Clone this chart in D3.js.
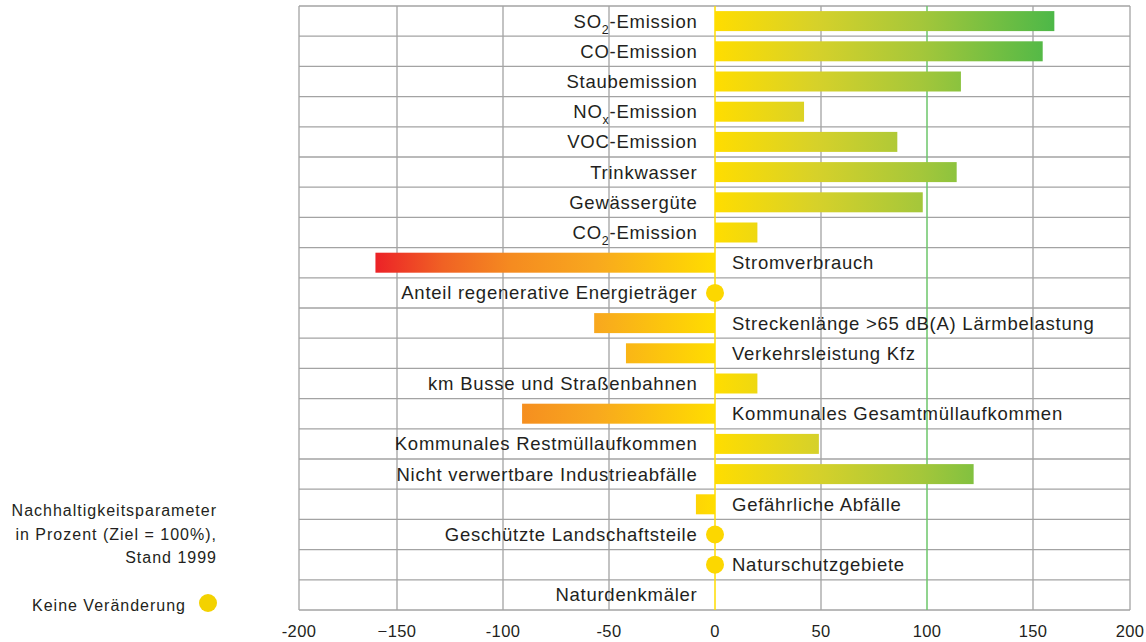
<!DOCTYPE html>
<html>
<head>
<meta charset="utf-8">
<script src="https://cdn.jsdelivr.net/npm/d3@7"></script>
<style>
  body { margin: 0; background: #fff; }
  svg { font-family: "Liberation Sans", Arial, sans-serif; }
</style>
</head>
<body>
<div id="chart"></div>
<script>
// parameter names (sub = subscript part)
var names = [
	["SO", "2", "-Emission"],
	["CO-Emission"],
	["Staubemission"],
	["NO", "x", "-Emission"],
	["VOC-Emission"],
	["Trinkwasser"],
	["Gewässergüte"],
	["CO", "2", "-Emission"],
	["Stromverbrauch"],
	["Anteil regenerative Energieträger"],
	["Streckenlänge >65 dB(A) Lärmbelastung"],
	["Verkehrsleistung Kfz"],
	["km Busse und Straßenbahnen"],
	["Kommunales Gesamtmüllaufkommen"],
	["Kommunales Restmüllaufkommen"],
	["Nicht verwertbare Industrieabfälle"],
	["Gefährliche Abfälle"],
	["Geschützte Landschaftsteile"],
	["Naturschutzgebiete"],
	["Naturdenkmäler"]
];
// percentage values, 0 = keine Veränderung (dot), null = no mark
var values = [161, 155, 116, 42, 86, 114, 98, 20, -161, 0, -57, -42, 20, -91, 49, 122, -9, 0, 0, null];
// which side of the zero line the label sits
var sides = ["l","l","l","l","l","l","l","l","r","l","r","r","l","r","l","l","r","l","r","l"];
var tickValues = [-200, -150, -100, -50, 0, 50, 100, 150, 200];
var tickLabels = ["-200", "\u2212150", "-100", "-50", "0", "50", "100", "150", "200"];
var noteLines = ["Nachhaltigkeitsparameter", "in Prozent (Ziel = 100%),", "Stand 1999"];
var legendLabel = "Keine Veränderung";

var width = 1146, height = 642;
var plotTop = 6, plotBottom = 610;

var svg = d3.select("#chart")
  .append("svg")
    .attr("width", width)
    .attr("height", height);

// outer columns are a bit narrower in the original
var x = d3.scaleLinear()
    .domain([-200, -150, 150, 200])
    .range([299, 397, 1033, 1130]);

var y = d3.scaleBand()
    .domain(d3.range(names.length))
    .range([plotTop, plotBottom]);

var defs = svg.append("defs");
var gradPos = defs.append("linearGradient")
    .attr("id", "gradPos")
    .attr("gradientUnits", "userSpaceOnUse")
    .attr("x1", x(0)).attr("x2", x(161))
    .attr("y1", 0).attr("y2", 0);
[[0, "#ffdd00"], [0.3, "#d6d12a"], [0.6, "#a6c73a"], [1, "#4db848"]].forEach(function(s) {
	gradPos.append("stop").attr("offset", s[0]).attr("stop-color", s[1]);
});
var gradNeg = defs.append("linearGradient")
    .attr("id", "gradNeg")
    .attr("gradientUnits", "userSpaceOnUse")
    .attr("x1", x(0)).attr("x2", x(-161))
    .attr("y1", 0).attr("y2", 0);
[[0, "#ffdd00"], [0.35, "#f8a81e"], [0.6, "#f58b20"], [0.8, "#f06224"], [1, "#ec2227"]].forEach(function(s) {
	gradNeg.append("stop").attr("offset", s[0]).attr("stop-color", s[1]);
});

//grid
svg.append("g")
    .selectAll("line")
    .data(tickValues.filter(function(d) { return d != 0 && d != 100; }))
  .enter().append("line")
    .attr("x1", function(d) { return x(d); })
    .attr("x2", function(d) { return x(d); })
    .attr("y1", plotTop)
    .attr("y2", plotBottom)
    .style("stroke", "#a3a3a3")
    .style("stroke-width", "1.3px");

svg.append("g")
    .selectAll("line")
    .data(d3.range(names.length + 1))
  .enter().append("line")
    .attr("x1", x(-200))
    .attr("x2", x(200))
    .attr("y1", function(d) { return plotTop + d * y.step(); })
    .attr("y2", function(d) { return plotTop + d * y.step(); })
    .style("stroke", "#a3a3a3")
    .style("stroke-width", "1.3px");

// target line
svg.append("line")
    .attr("x1", x(100)).attr("x2", x(100))
    .attr("y1", plotTop).attr("y2", plotBottom)
    .style("stroke", "#6cc66a")
    .style("stroke-width", "1.5px");

// zero line
svg.append("line")
    .attr("x1", x(0)).attr("x2", x(0))
    .attr("y1", plotTop).attr("y2", plotBottom)
    .style("stroke", "#ffdd00")
    .style("stroke-width", "1.5px");

var rows = svg.selectAll("g.row")
    .data(names.map(function(n, i) { return {name: n, value: values[i], side: sides[i], i: i}; }))
  .enter().append("g")
    .attr("class", "row")
    .attr("transform", function(d) { return "translate(0," + y(d.i) + ")"; });

var barH = 20;
rows.filter(function(d) { return d.value != null && d.value != 0; })
  .append("rect")
    .attr("x", function(d) { return x(Math.min(0, d.value)); })
    .attr("width", function(d) { return Math.abs(x(d.value) - x(0)); })
    .attr("y", (y.bandwidth() - barH) / 2)
    .attr("height", barH)
    .style("fill", function(d) { return d.value > 0 ? "url(#gradPos)" : "url(#gradNeg)"; });

rows.filter(function(d) { return d.value === 0; })
  .append("circle")
    .attr("cx", x(0))
    .attr("cy", y.bandwidth() / 2)
    .attr("r", 9)
    .style("fill", "#fcd700");

//labels
var label = rows.append("text")
    .attr("x", function(d) { return d.side == "l" ? x(0) - 17.5 : x(0) + 17; })
    .attr("y", y.bandwidth() / 2 + 6.5)
    .attr("text-anchor", function(d) { return d.side == "l" ? "end" : "start"; })
    .style("fill", "#231f20")
    .style("font-size", "18.5px")
    .style("letter-spacing", "0.75px");
label.each(function(d) {
	var t = d3.select(this);
	if(d.name.length == 1) {
		t.text(d.name[0]);
	}
	else {
		t.append("tspan").text(d.name[0]);
		t.append("tspan").attr("dy", 6).style("font-size", "12.5px").text(d.name[1]);
		t.append("tspan").attr("dy", -6).text(d.name[2]);
	}
});

//x axis labels
svg.append("g")
    .selectAll("text")
    .data(tickValues)
  .enter().append("text")
    .attr("x", function(d) { return x(d); })
    .attr("y", 637)
    .attr("text-anchor", "middle")
    .style("fill", "#231f20")
    .style("font-size", "16.5px")
    .style("letter-spacing", "0.4px")
    .text(function(d, i) { return tickLabels[i]; });

//note
svg.append("g")
    .selectAll("text")
    .data(noteLines)
  .enter().append("text")
    .attr("x", 217)
    .attr("y", function(d, i) { return 516 + i * 23.5; })
    .attr("text-anchor", "end")
    .style("fill", "#231f20")
    .style("font-size", "16px")
    .style("letter-spacing", "1px")
    .text(function(d) { return d; });

svg.append("text")
    .attr("x", 186)
    .attr("y", 611)
    .attr("text-anchor", "end")
    .style("fill", "#231f20")
    .style("font-size", "16px")
    .style("letter-spacing", "1px")
    .text(legendLabel);
svg.append("circle")
    .attr("cx", 208)
    .attr("cy", 603)
    .attr("r", 9)
    .style("fill", "#f3d200");
</script>
</body>
</html>
